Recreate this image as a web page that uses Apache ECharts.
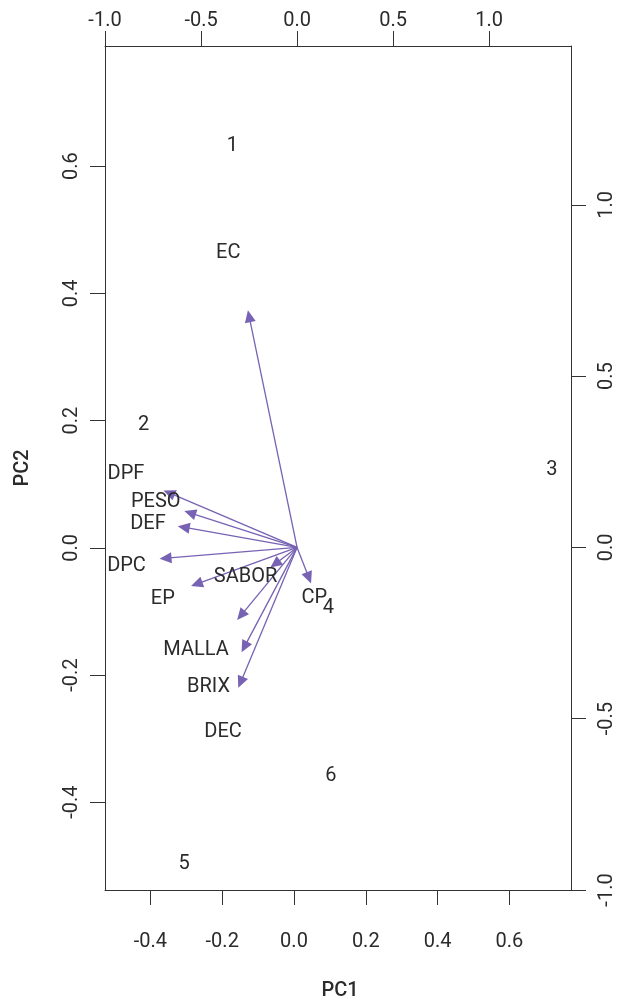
<!DOCTYPE html>
<html>
<head>
<meta charset="utf-8">
<script src="https://cdn.jsdelivr.net/npm/echarts@6/dist/echarts.min.js"></script>
<style>
html,body{margin:0;padding:0;background:#fff;}
#chart{width:617px;height:1001px;}
</style>
</head>
<body>
<div id="chart"></div>
<script>
// Observations (scores) on PC1 / PC2 (bottom / left axes)
const obsNames = ['1','2','3','4','5','6'];
const obsPC1 = [-0.172, -0.419, 0.719, 0.096, -0.306, 0.103];
const obsPC2 = [0.632, 0.193, 0.123, -0.094, -0.497, -0.358];

// Variables (loadings) on top / right axes
const varNames = ['EC','DPF','PESO','DEF','DPC','SABOR','EP','CP','MALLA','BRIX','DEC'];
const varLabelX = [-0.358, -0.891, -0.736, -0.776, -0.888, -0.268, -0.699, 0.090, -0.526, -0.461, -0.385];
const varLabelY = [0.860, 0.213, 0.132, 0.067, -0.055, -0.086, -0.150, -0.147, -0.298, -0.408, -0.540];
const arrowX = [-0.256, -0.695, -0.587, -0.621, -0.716, -0.139, -0.552, 0.073, -0.312, -0.289, -0.306];
const arrowY = [0.692, 0.166, 0.106, 0.062, -0.033, -0.059, -0.113, -0.105, -0.212, -0.306, -0.410];

// Tick labels
const ticksBottom = [-0.4, -0.2, 0.0, 0.2, 0.4, 0.6];
const ticksLeft = [-0.4, -0.2, 0.0, 0.2, 0.4, 0.6];
const ticksTop = [-1.0, -0.5, 0.0, 0.5, 1.0];
const ticksRight = [-1.0, -0.5, 0.0, 0.5, 1.0];

const FONT = 'Roboto';
const TXT = '#2b2b2b';
const AXC = '#333333';
const ARROW = '#7762b3';

function axisCommon(ticks, extra) {
  return Object.assign({
    type: 'value',
    splitLine: { show: false },
    axisLine: { show: true, onZero: false, lineStyle: { color: AXC, width: 1 } },
    axisTick: { show: true, length: 15, customValues: ticks, lineStyle: { color: AXC, width: 1 } },
    axisLabel: {
      customValues: ticks,
      showMinLabel: true, showMaxLabel: true,
      color: TXT, fontFamily: FONT, fontSize: 20,
      formatter: v => Number(v).toFixed(1)
    }
  }, extra);
}

const chart = echarts.init(document.getElementById('chart'), null, { renderer: 'canvas' });

const xBottom = axisCommon(ticksBottom, { position: 'bottom', min: -0.5267, max: 0.772 });
xBottom.axisLabel.margin = 42;
const xTop = axisCommon(ticksTop, { position: 'top', min: -1.0, max: 1.4264 });
xTop.axisLabel.margin = 15;
const yLeft = axisCommon(ticksLeft, { position: 'left', min: -0.538, max: 0.789 });
yLeft.axisLabel.rotate = 90;
yLeft.axisLabel.margin = 23;
const yRight = axisCommon(ticksRight, { position: 'right', min: -1.0, max: 1.4636 });
yRight.axisLabel.rotate = 90;
yRight.axisLabel.margin = 26;

function textItem(names) {
  return function (params, api) {
    const p = api.coord([api.value(0), api.value(1)]);
    return {
      type: 'text',
      x: p[0], y: p[1],
      style: {
        text: names[params.dataIndex],
        fill: TXT,
        font: '20px ' + FONT,
        align: 'center',
        verticalAlign: 'middle'
      }
    };
  };
}

const option = {
  animation: false,
  backgroundColor: '#ffffff',
  grid: { left: 105, top: 46, width: 470, height: 844, containLabel: false },
  xAxis: [xBottom, xTop],
  yAxis: [yLeft, yRight],
  graphic: [
    { type: 'text', x: 340, y: 991, style: { text: 'PC1', fill: TXT, font: '500 20px ' + FONT, align: 'center', verticalAlign: 'middle' } },
    { type: 'text', x: 23, y: 468, rotation: Math.PI / 2, style: { text: 'PC2', fill: TXT, font: '500 20px ' + FONT, align: 'center', verticalAlign: 'middle' } }
  ],
  series: [
    {
      type: 'custom',
      name: 'arrows',
      xAxisIndex: 1, yAxisIndex: 1,
      clip: false,
      data: arrowX.map((x, i) => [x, arrowY[i]]),
      renderItem: function (params, api) {
        const s = api.coord([0, 0]);
        const e = api.coord([api.value(0), api.value(1)]);
        const dx = e[0] - s[0], dy = e[1] - s[1];
        const len = Math.sqrt(dx * dx + dy * dy) || 1;
        const ux = dx / len, uy = dy / len;
        const L = 12, W = 5.5;
        const bx = e[0] - ux * L, by = e[1] - uy * L;
        return {
          type: 'group',
          children: [
            { type: 'line', shape: { x1: s[0], y1: s[1], x2: bx + ux * 2, y2: by + uy * 2 }, style: { stroke: ARROW, lineWidth: 1.3 } },
            { type: 'polygon', shape: { points: [[e[0], e[1]], [bx - uy * W, by + ux * W], [bx + uy * W, by - ux * W]] }, style: { fill: ARROW } }
          ]
        };
      }
    },
    {
      type: 'custom',
      name: 'variables',
      xAxisIndex: 1, yAxisIndex: 1,
      clip: false,
      data: varLabelX.map((x, i) => [x, varLabelY[i]]),
      renderItem: textItem(varNames)
    },
    {
      type: 'custom',
      name: 'observations',
      xAxisIndex: 0, yAxisIndex: 0,
      clip: false,
      data: obsPC1.map((x, i) => [x, obsPC2[i]]),
      renderItem: textItem(obsNames)
    }
  ]
};
chart.setOption(option);
</script>
</body>
</html>
